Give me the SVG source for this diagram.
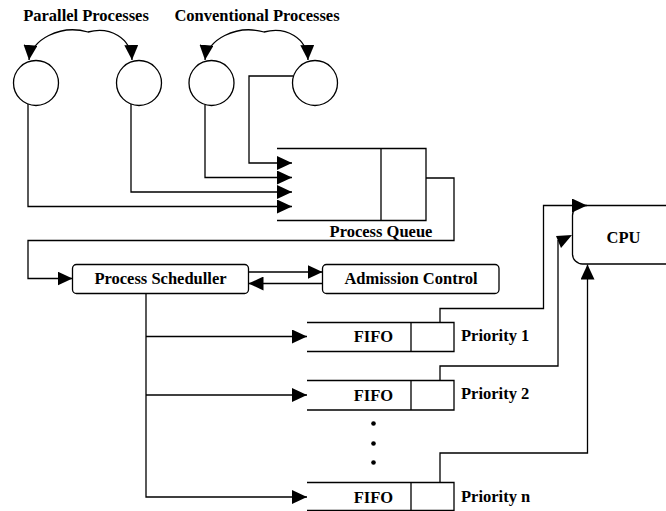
<svg xmlns="http://www.w3.org/2000/svg" width="666" height="511" viewBox="0 0 666 511">
<style>
.ln{fill:none;stroke:#000;stroke-width:1.3}
.bx{fill:#fff;stroke:#000;stroke-width:1.3}
.t{font-family:"Liberation Serif","Times New Roman",serif;font-weight:bold;font-size:16.5px;fill:#000}
.c{text-anchor:middle}
</style>
<defs>
<marker id="ah" viewBox="0 0 15 14" refX="15" refY="7" markerWidth="15" markerHeight="14" markerUnits="userSpaceOnUse" orient="auto-start-reverse">
<path d="M0,0 L15,7 L0,14 z" fill="#000"/>
</marker>
</defs>
<rect width="666" height="511" fill="#fff"/>

<g id="labels">
<text class="t c" x="86" y="21">Parallel Processes</text>
<text class="t c" x="257" y="21">Conventional Processes</text>
</g>

<g id="proc-p1"><circle class="bx" cx="36" cy="83" r="22.5"/></g>
<g id="proc-p2"><circle class="bx" cx="139" cy="83" r="22.5"/></g>
<g id="proc-c1"><circle class="bx" cx="211.5" cy="83" r="22.5"/></g>
<g id="proc-c2"><circle class="bx" cx="315" cy="83" r="22.5"/></g>

<g id="process-queue">
<path class="ln" d="M277 148.5 H426 V220.5 H277 M381 148.5 V220.5"/>
<text class="t c" x="381" y="237">Process Queue</text>
</g>

<g id="scheduler">
<rect class="bx" x="72.5" y="264.5" width="176" height="29" rx="4"/>
<text class="t c" x="160.5" y="284">Process Scheduller</text>
</g>

<g id="admission">
<rect class="bx" x="322.5" y="264.5" width="176.5" height="29" rx="4"/>
<text class="t c" x="411" y="284">Admission Control</text>
</g>

<g id="cpu">
<rect class="bx" x="572.5" y="205.5" width="130" height="58.5" rx="10"/>
<text class="t c" x="623.5" y="243">CPU</text>
</g>

<g id="fifo1">
<path class="ln" d="M307 322.5 H454 V351.5 H307 M411 322.5 V351.5"/>
<text class="t c" x="373.5" y="342">FIFO</text>
<text class="t" x="461" y="341">Priority 1</text>
</g>
<g id="fifo2">
<path class="ln" d="M307 380.5 H454 V410 H307 M411 380.5 V410"/>
<text class="t c" x="373.5" y="400.5">FIFO</text>
<text class="t" x="461" y="398.5">Priority 2</text>
</g>
<g id="fifon">
<path class="ln" d="M307 482.5 H454 V510.5 H307 M411 482.5 V510.5"/>
<text class="t c" x="373.5" y="502.5">FIFO</text>
<text class="t" x="461" y="501.5">Priority n</text>
</g>

<g id="ellipsis">
<circle cx="373.5" cy="423.5" r="2.3"/>
<circle cx="373.5" cy="443.5" r="2.3"/>
<circle cx="373.5" cy="462.5" r="2.3"/>
</g>

<g id="connectors">
<path class="ln" marker-start="url(#ah)" marker-end="url(#ah)" d="M29 60 C31 40, 60 24, 88 32 C110 26, 131 38, 132 60"/>
<path class="ln" marker-start="url(#ah)" marker-end="url(#ah)" d="M205 60 C207 40, 236 24, 264 32 C286 26, 307 38, 308 60"/>
<path class="ln" marker-end="url(#ah)" d="M28 104 V206.5 H292"/>
<path class="ln" marker-end="url(#ah)" d="M131 104 V192 H292"/>
<path class="ln" marker-end="url(#ah)" d="M205 104.5 V177.5 H292"/>
<path class="ln" marker-end="url(#ah)" d="M293.6 76 H249 V163 H292"/>
<path class="ln" marker-end="url(#ah)" d="M426 178 H454 V240.5 H28 V278.5 H72.5"/>
<path class="ln" marker-end="url(#ah)" d="M248.5 272 H322.5"/>
<path class="ln" marker-end="url(#ah)" d="M322.5 283.5 H248.5"/>
<path class="ln" marker-end="url(#ah)" d="M146 293.5 V497 H307"/>
<path class="ln" marker-end="url(#ah)" d="M146 336.5 H307"/>
<path class="ln" marker-end="url(#ah)" d="M146 395 H307"/>
<path class="ln" marker-end="url(#ah)" d="M440 322.5 V308.5 H543.5 V205.5 H587"/>
<path class="ln" d="M440 380.5 V366 H558 V240"/>
<polygon points="556,236 572,235 561,248" fill="#000"/>
<path class="ln" marker-end="url(#ah)" d="M440 482.5 V453 H587.5 V264.5"/>
</g>
</svg>
